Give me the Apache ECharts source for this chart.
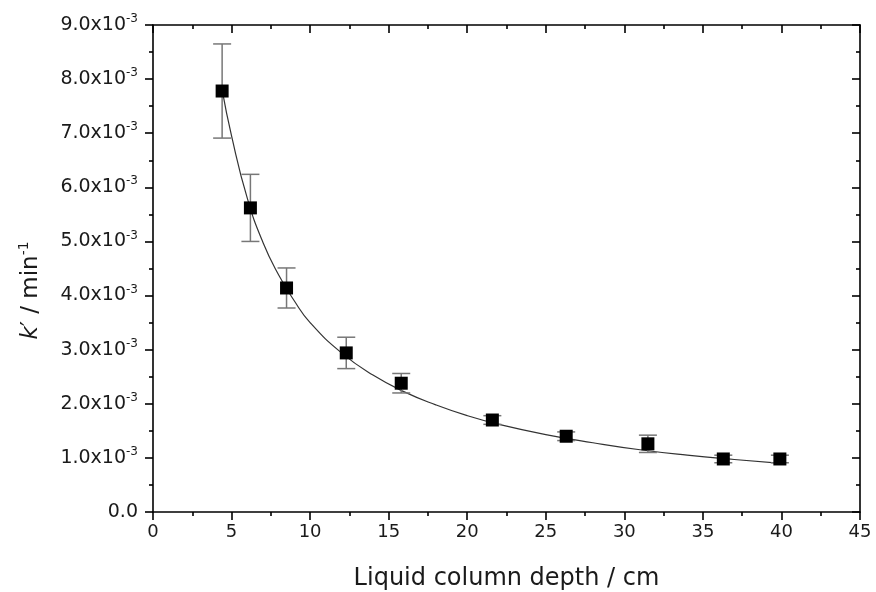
<!DOCTYPE html>
<html><head><meta charset="utf-8">
<script src="https://cdn.jsdelivr.net/npm/echarts@6/dist/echarts.min.js"></script>
<style>html,body{margin:0;padding:0;background:#fff}#c{width:876px;height:592px}</style>
</head><body><div id="c"></div>
<script>
// Data (k' in units of 1e-3 min^-1)
const depth = [4.4, 6.2, 8.5, 12.3, 15.8, 21.6, 26.3, 31.5, 36.3, 39.9];
const kValue = [7.78, 5.62, 4.14, 2.94, 2.38, 1.70, 1.40, 1.26, 0.98, 0.98];
const kError = [0.87, 0.62, 0.37, 0.29, 0.18, 0.08, 0.08, 0.16, 0.07, 0.07];
const fitX = [4.4, 5, 6, 7, 8, 9, 10, 12, 14, 16, 18, 20, 22, 25, 28, 31, 34, 37, 40];
const fitY = [7.80, 6.95, 5.80, 4.98, 4.38, 3.90, 3.50, 2.94, 2.53, 2.22, 1.98, 1.78, 1.62, 1.43, 1.28, 1.15, 1.05, 0.97, 0.90];
const xTicks = [0, 5, 10, 15, 20, 25, 30, 35, 40, 45];
const yTicks = ['0.0', '1.0', '2.0', '3.0', '4.0', '5.0', '6.0', '7.0', '8.0', '9.0'];

const SCALE = 1e-3;
const pts = depth.map((d, i) => [d, kValue[i] * SCALE]);
const errs = depth.map((d, i) => [d, (kValue[i] - kError[i]) * SCALE, (kValue[i] + kError[i]) * SCALE]);
const fit = fitX.map((x, i) => [x, fitY[i] * SCALE]);

const FONT = '"DejaVu Sans", sans-serif';
const TXT = '#1a1a1a';
const axisLine = { show: true, onZero: false, lineStyle: { color: '#000', width: 1.6 } };
const tick = (inside) => ({ show: true, inside: inside, length: 8, lineStyle: { color: '#000', width: 1.6 } });
const minor = { show: true, splitNumber: 2, length: 4, lineStyle: { color: '#000', width: 1.6 } };

const chart = echarts.init(document.getElementById('c'));
chart.setOption({
  animation: false,
  backgroundColor: '#fff',
  grid: { left: 153, right: 16, top: 25, bottom: 80, outerBoundsMode: 'none', containLabel: false },
  xAxis: [{
    type: 'value', min: 0, max: 45, interval: 5, position: 'bottom',
    axisLine: axisLine, axisTick: tick(false), minorTick: minor,
    splitLine: { show: false },
    axisLabel: { color: TXT, fontFamily: FONT, fontSize: 18, margin: 11,
      formatter: v => String(xTicks[Math.round(v / 5)]) },
    name: 'Liquid column depth / cm', nameLocation: 'middle', nameGap: 55,
    nameTextStyle: { color: TXT, fontFamily: FONT, fontSize: 24 }
  }, {
    type: 'value', min: 0, max: 45, interval: 5, position: 'top',
    axisLine: axisLine, axisTick: tick(true), minorTick: minor,
    splitLine: { show: false }, axisLabel: { show: false }
  }],
  yAxis: [{
    type: 'value', min: 0, max: 9e-3, interval: 1e-3, position: 'left',
    axisLine: axisLine, axisTick: tick(false), minorTick: minor,
    splitLine: { show: false },
    axisLabel: {
      color: TXT, fontFamily: FONT, fontSize: 19, margin: 15,
      formatter: v => {
        const i = Math.round(v / 1e-3);
        return i === 0 ? '{b|0.0}' : '{b|' + yTicks[i] + 'x10}{s|-3}';
      },
      rich: {
        b: { fontFamily: FONT, fontSize: 19, color: TXT, lineHeight: 22 },
        s: { fontFamily: FONT, fontSize: 12, color: TXT, lineHeight: 22, padding: [0, 0, 12, 0] }
      }
    },
    name: '{i|k}{n|\u2032 / min}{s|-1}', nameLocation: 'middle', nameGap: 109, nameRotate: 90,
    nameTextStyle: {
      padding: [0, 44, 0, 0],
      rich: {
        i: { fontFamily: FONT, fontSize: 23, fontStyle: 'italic', color: TXT, lineHeight: 26 },
        n: { fontFamily: FONT, fontSize: 23, color: TXT, lineHeight: 26 },
        s: { fontFamily: FONT, fontSize: 14, color: TXT, lineHeight: 26, padding: [0, 0, 14, 0] }
      }
    }
  }, {
    type: 'value', min: 0, max: 9e-3, interval: 1e-3, position: 'right',
    axisLine: axisLine, axisTick: tick(true), minorTick: minor,
    splitLine: { show: false }, axisLabel: { show: false }
  }],
  series: [{
    type: 'line', data: fit, smooth: true, symbol: 'none',
    lineStyle: { color: '#333', width: 1.2 }, z: 2
  }, {
    type: 'custom', data: errs, z: 3,
    renderItem: (params, api) => {
      const x = api.value(0);
      const lo = api.coord([x, api.value(1)]);
      const hi = api.coord([x, api.value(2)]);
      const w = 9;
      const st = { stroke: '#777', lineWidth: 1.5 };
      return { type: 'group', children: [
        { type: 'line', shape: { x1: lo[0], y1: lo[1], x2: hi[0], y2: hi[1] }, style: st },
        { type: 'line', shape: { x1: lo[0] - w, y1: lo[1], x2: lo[0] + w, y2: lo[1] }, style: st },
        { type: 'line', shape: { x1: hi[0] - w, y1: hi[1], x2: hi[0] + w, y2: hi[1] }, style: st }
      ]};
    }
  }, {
    type: 'scatter', data: pts, symbol: 'rect', symbolSize: 13,
    itemStyle: { color: '#000', opacity: 1 }, z: 4
  }]
});
</script></body></html>
